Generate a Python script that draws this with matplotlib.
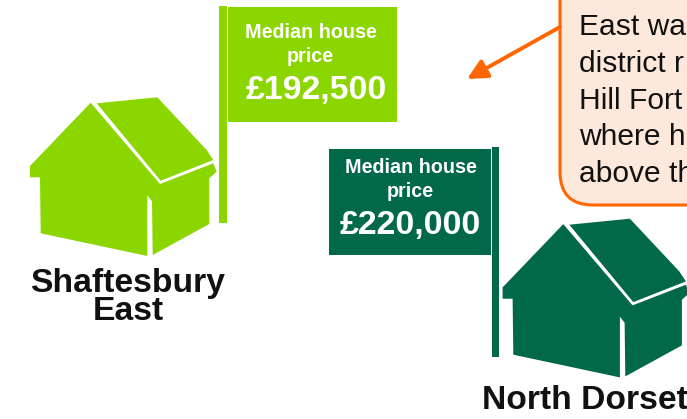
import matplotlib
matplotlib.use('Agg')
import matplotlib.pyplot as plt
from matplotlib.patches import Polygon, Rectangle, FancyBboxPatch, FancyArrowPatch

plt.rcParams['font.family'] = ['Liberation Sans', 'DejaVu Sans']

# Text content
price_caption = ['Median house', 'price']
prices = ['£192,500', '£220,000']
area_names = [['Shaftesbury', 'East'], ['North Dorset']]
callout_lines = ['East wa', 'district r', 'Hill Fort', 'where h', 'above th']

# Colours
light_green = '#8CD600'
dark_green = '#02684A'
orange = '#FF6600'
callout_fill = '#FDE9DC'

# House outline, in pixels of the left house
house_body = [(90.7, 102.7), (30, 166), (30, 177.3), (40, 177.3), (40.7, 233.3), (147.3, 256),
              (147.3, 195.3), (152, 201.3), (152.7, 255), (209.3, 224), (209.3, 178.3),
              (216.7, 171.7), (213.3, 163.3), (160, 184)]
house_roof = [(96.7, 103.3), (157.3, 97.3), (206.7, 150), (213.3, 160), (160.7, 180.7)]


def draw_house(ax, dx, dy, color):
    ax.add_patch(Polygon([(x + dx, y + dy) for x, y in house_body], fc=color, ec='none'))
    ax.add_patch(Polygon([(x + dx, y + dy) for x, y in house_roof], fc=color, ec='none'))


def draw_flag(ax, box, pole, color, price, caption_x, price_x, text_y):
    ax.add_patch(Rectangle((box[0], box[1]), box[2] - box[0], box[3] - box[1], fc=color, ec='none'))
    ax.add_patch(Rectangle((pole[0], pole[1]), pole[2] - pole[0], pole[3] - pole[1], fc=color, ec='none'))
    ax.text(caption_x, text_y[0], price_caption[0], color='white', fontsize=14.2, fontweight='bold',
            ha='center', va='center')
    ax.text(caption_x, text_y[1], price_caption[1], color='white', fontsize=14.2, fontweight='bold',
            ha='center', va='center')
    ax.text(price_x, text_y[2], price, color='white', fontsize=24.4, fontweight='bold',
            ha='center', va='center')


fig = plt.figure(figsize=(6.87, 4.19), dpi=100)
ax = fig.add_axes([0, 0, 1, 1])
ax.set_xlim(0, 687)
ax.set_ylim(419, 0)
ax.axis('off')

# Left house and flag
draw_house(ax, 0, 0, light_green)
draw_flag(ax, (228, 7, 397, 122), (219, 6, 227, 223), light_green, prices[0], 310.5, 316, (33, 57, 90))
ax.text(128, 283, area_names[0][0], color='#111111', fontsize=24.2, fontweight='bold', ha='center', va='center')
ax.text(128, 311, area_names[0][1], color='#111111', fontsize=24.2, fontweight='bold', ha='center', va='center')

# Right house and flag
draw_house(ax, 472.6, 121.4, dark_green)
draw_flag(ax, (329, 149, 491, 255), (492, 147, 499, 357), dark_green, prices[1], 410.5, 410.5, (167, 191, 225))
ax.text(584.5, 400, area_names[1][0], color='#111111', fontsize=24.2, fontweight='bold', ha='center', va='center')

# Callout, runs off the top and right edges
ax.add_patch(FancyBboxPatch((560, -60), 200, 265, boxstyle='round,pad=0,rounding_size=33',
                            fc=callout_fill, ec=orange, lw=2.2))
for i, line in enumerate(callout_lines):
    ax.text(579, 27 + i * 36.8, line, color='#111111', fontsize=21.6, ha='left', va='center')

ax.add_patch(FancyArrowPatch((560, 27), (467, 79), arrowstyle='-|>,head_length=0.6,head_width=0.3',
                             mutation_scale=20, color=orange, lw=2.8, shrinkA=0, shrinkB=0))

fig.savefig('out.png', dpi=100)
